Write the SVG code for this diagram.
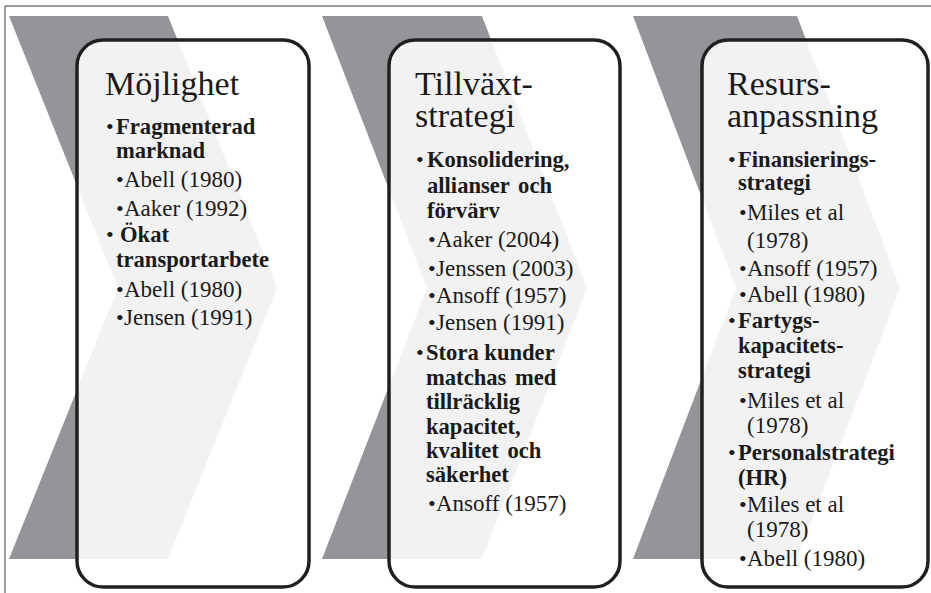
<svg xmlns="http://www.w3.org/2000/svg" width="931" height="593" viewBox="0 0 931 593">
  <style>
    .frame { fill: none; stroke: #3a3a3a; stroke-width: 1; }
    .chev { fill: #939598; }
    .box { fill: #ffffff; fill-opacity: 0.88; stroke: #231f20; stroke-width: 3.5; }
    .txt text { fill: #1a1a1a; }
    .title { font-size: 34px; }
    .b { font-size: 22.6px; font-weight: bold; }
    .r { font-size: 23px; }
    .dot { font-size: 22px; }
  </style>

  <!-- outer frame -->
  <path class="frame" d="M5,593 V6 H931"/>

  <!-- column 1 -->
  <g id="mojlighet">
    <polygon class="chev" points="9,16 168,16 277,288 168,559 9,559 118,288"/>
    <rect class="box" x="77" y="40" width="232" height="547" rx="26" ry="26"/>
    <g class="txt" font-family="Liberation Serif, DejaVu Serif, serif">
      <text class="title" x="105" y="95">Möjlighet</text>
      <text class="dot" x="106" y="134">•</text>
      <text class="b" x="116" y="134">Fragmenterad</text>
      <text class="b" x="116" y="158">marknad</text>
      <text class="dot" x="116" y="187">•</text>
      <text class="r" x="124" y="187">Abell (1980)</text>
      <text class="dot" x="116" y="216">•</text>
      <text class="r" x="124" y="216">Aaker (1992)</text>
      <text class="dot" x="106" y="242">•</text>
      <text class="b" x="120" y="242">Ökat</text>
      <text class="b" x="116" y="267">transportarbete</text>
      <text class="dot" x="116" y="297">•</text>
      <text class="r" x="124" y="297">Abell (1980)</text>
      <text class="dot" x="116" y="325">•</text>
      <text class="r" x="124" y="325">Jensen (1991)</text>
    </g>
  </g>

  <!-- column 2 -->
  <g id="tillvaxtstrategi">
    <polygon class="chev" points="322,16 482,16 587,288 482,559 322,559 427,288"/>
    <rect class="box" x="389" y="40" width="231" height="547" rx="26" ry="26"/>
    <g class="txt" font-family="Liberation Serif, DejaVu Serif, serif">
      <text class="title" x="415" y="95">Tillväxt-</text>
      <text class="title" x="415" y="127">strategi</text>
      <text class="dot" x="416" y="167">•</text>
      <text class="b" x="427" y="167">Konsolidering,</text>
      <text class="b" x="427" y="193" word-spacing="3">allianser och</text>
      <text class="b" x="427" y="218">förvärv</text>
      <text class="dot" x="428" y="247">•</text>
      <text class="r" x="436" y="247">Aaker (2004)</text>
      <text class="dot" x="428" y="276">•</text>
      <text class="r" x="436" y="276">Jenssen (2003)</text>
      <text class="dot" x="428" y="303">•</text>
      <text class="r" x="436" y="303">Ansoff (1957)</text>
      <text class="dot" x="428" y="330">•</text>
      <text class="r" x="436" y="330">Jensen (1991)</text>
      <text class="dot" x="416" y="360">•</text>
      <text class="b" x="426" y="360">Stora kunder</text>
      <text class="b" x="426" y="385" word-spacing="3">matchas med</text>
      <text class="b" x="426" y="409">tillräcklig</text>
      <text class="b" x="426" y="434">kapacitet,</text>
      <text class="b" x="426" y="458" word-spacing="3">kvalitet och</text>
      <text class="b" x="426" y="482">säkerhet</text>
      <text class="dot" x="428" y="511">•</text>
      <text class="r" x="436" y="511">Ansoff (1957)</text>
    </g>
  </g>

  <!-- column 3 -->
  <g id="resursanpassning">
    <polygon class="chev" points="633,16 797,16 900,288 797,559 633,559 736,288"/>
    <rect class="box" x="702" y="40" width="226" height="547" rx="26" ry="26"/>
    <g class="txt" font-family="Liberation Serif, DejaVu Serif, serif">
      <text class="title" x="727" y="95">Resurs-</text>
      <text class="title" x="727" y="127">anpassning</text>
      <text class="dot" x="728" y="167">•</text>
      <text class="b" x="738" y="167">Finansierings-</text>
      <text class="b" x="738" y="190">strategi</text>
      <text class="dot" x="739" y="220">•</text>
      <text class="r" x="747" y="220">Miles et al</text>
      <text class="r" x="747" y="248">(1978)</text>
      <text class="dot" x="739" y="276">•</text>
      <text class="r" x="747" y="276">Ansoff (1957)</text>
      <text class="dot" x="739" y="302">•</text>
      <text class="r" x="747" y="302">Abell (1980)</text>
      <text class="dot" x="728" y="328">•</text>
      <text class="b" x="738" y="328">Fartygs-</text>
      <text class="b" x="738" y="353">kapacitets-</text>
      <text class="b" x="738" y="378">strategi</text>
      <text class="dot" x="739" y="408">•</text>
      <text class="r" x="747" y="408">Miles et al</text>
      <text class="r" x="747" y="433">(1978)</text>
      <text class="dot" x="728" y="460">•</text>
      <text class="b" x="738" y="460">Personalstrategi</text>
      <text class="b" x="738" y="485">(HR)</text>
      <text class="dot" x="739" y="512">•</text>
      <text class="r" x="747" y="512">Miles et al</text>
      <text class="r" x="747" y="537">(1978)</text>
      <text class="dot" x="739" y="566">•</text>
      <text class="r" x="747" y="566">Abell (1980)</text>
    </g>
  </g>
</svg>
